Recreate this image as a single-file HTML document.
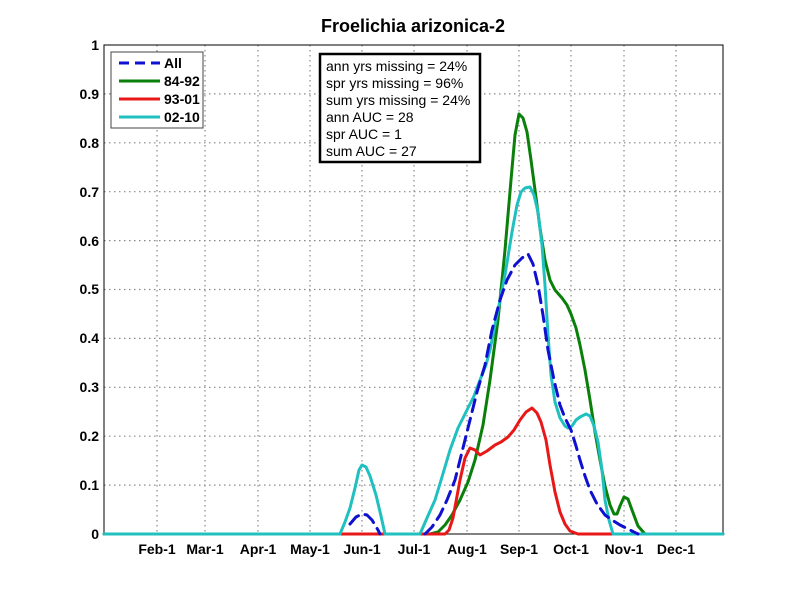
<!DOCTYPE html>
<html><head><style>body{margin:0;background:#fff}</style></head><body>
<svg width="800" height="600" xmlns="http://www.w3.org/2000/svg" font-family="Liberation Sans, Arial, sans-serif">
<rect width="800" height="600" fill="#fff"/>
<g stroke="#888" stroke-dasharray="1.5,3.5" stroke-width="1.2">
<line x1="157" y1="45" x2="157" y2="534"/><line x1="205" y1="45" x2="205" y2="534"/><line x1="258" y1="45" x2="258" y2="534"/><line x1="310" y1="45" x2="310" y2="534"/><line x1="362" y1="45" x2="362" y2="534"/><line x1="414" y1="45" x2="414" y2="534"/><line x1="467" y1="45" x2="467" y2="534"/><line x1="519" y1="45" x2="519" y2="534"/><line x1="571" y1="45" x2="571" y2="534"/><line x1="624" y1="45" x2="624" y2="534"/><line x1="676" y1="45" x2="676" y2="534"/>
<line x1="104" y1="485.1" x2="723" y2="485.1"/><line x1="104" y1="436.2" x2="723" y2="436.2"/><line x1="104" y1="387.3" x2="723" y2="387.3"/><line x1="104" y1="338.4" x2="723" y2="338.4"/><line x1="104" y1="289.5" x2="723" y2="289.5"/><line x1="104" y1="240.6" x2="723" y2="240.6"/><line x1="104" y1="191.7" x2="723" y2="191.7"/><line x1="104" y1="142.8" x2="723" y2="142.8"/><line x1="104" y1="93.9" x2="723" y2="93.9"/>
</g>
<rect x="104" y="45" width="619" height="489" fill="none" stroke="#000" stroke-width="1"/>
<g font-size="14" font-weight="bold" text-anchor="end">
<text x="99" y="539">0</text><text x="99" y="490">0.1</text><text x="99" y="441">0.2</text><text x="99" y="392">0.3</text><text x="99" y="343">0.4</text><text x="99" y="294">0.5</text><text x="99" y="246">0.6</text><text x="99" y="197">0.7</text><text x="99" y="148">0.8</text><text x="99" y="99">0.9</text><text x="99" y="50">1</text>
</g>
<g font-size="14" font-weight="bold" text-anchor="middle">
<text x="157" y="554">Feb-1</text><text x="205" y="554">Mar-1</text><text x="258" y="554">Apr-1</text><text x="310" y="554">May-1</text><text x="362" y="554">Jun-1</text><text x="414" y="554">Jul-1</text><text x="467" y="554">Aug-1</text><text x="519" y="554">Sep-1</text><text x="571" y="554">Oct-1</text><text x="624" y="554">Nov-1</text><text x="676" y="554">Dec-1</text>
</g>
<text x="413" y="32" font-size="18" font-weight="bold" text-anchor="middle">Froelichia arizonica-2</text>
<g fill="none" stroke-width="3" stroke-linejoin="round" stroke-linecap="round">
<polyline stroke="#0a800a" points="104,534 430,534 438,532 445,525 452,515 460,500 468,482 475,460 483,425 490,380 498,320 505,250 511,180 515,135 519,114 523,118 527,132 531,160 535,190 540,228 545,260 550,280 555,290 562,298 567,305 571,314 576,328 580,345 585,370 590,400 595,432 600,460 605,486 610,505 614,514 617,514 620,506 624,497 628,499 632,510 638,526 645,534 723,534"/>
<polyline stroke="#e81818" points="104,534 445,534 449,530 453,518 460,480 465,458 470,448 475,450 480,455 487,451 495,445 501,442 508,437 514,430 520,420 526,412 532,408 537,413 541,422 546,440 550,465 555,492 560,512 565,524 570,531 578,534 723,534"/>
<polyline stroke="#20c0c0" points="104,534 340,534 345,522 350,508 355,488 359,470 362,465 366,467 370,476 376,495 381,516 385,534 420,534 427,518 435,500 442,477 450,450 458,428 467,410 474,396 480,380 486,365 490,350 497,315 505,275 512,232 517,205 521,192 525,188 530,187 534,195 538,212 542,245 545,285 548,335 551,375 555,402 560,418 565,426 568,428 572,426 576,420 580,417 586,414 590,416 594,426 598,442 602,470 605,500 609,520 613,534 723,534"/>
<polyline stroke="#1010d0" stroke-dasharray="12,7" points="350,524 356,517 362,514 367,515 372,520 378,530 380,534"/>
<polyline stroke="#1010d0" stroke-dasharray="12,7" points="425,534 432,527 440,515 447,500 455,480 462,452 470,420 477,392 485,365 492,330 500,300 507,280 515,265 522,258 528,254 533,264 538,285 543,315 548,350 554,380 560,405 565,418 571,430 576,446 580,460 585,476 590,490 597,504 605,515 612,520 620,525 628,529 638,534"/>
</g>
<rect x="111" y="52" width="92" height="76" fill="#fff" stroke="#444"/>
<g stroke-width="3">
<line x1="119" y1="63" x2="160" y2="63" stroke="#1010d0" stroke-dasharray="10,6"/>
<line x1="119" y1="81" x2="160" y2="81" stroke="#0a800a"/>
<line x1="119" y1="99" x2="160" y2="99" stroke="#e81818"/>
<line x1="119" y1="117" x2="160" y2="117" stroke="#20c0c0"/>
</g>
<g font-size="14" font-weight="bold">
<text x="164" y="68">All</text><text x="164" y="86">84-92</text><text x="164" y="104">93-01</text><text x="164" y="122">02-10</text>
</g>
<rect x="320" y="54" width="160" height="108" fill="#fff" stroke="#000" stroke-width="2.5"/>
<g font-size="14">
<text x="326" y="71">ann yrs missing = 24%</text><text x="326" y="88">spr yrs missing = 96%</text><text x="326" y="105">sum yrs missing = 24%</text><text x="326" y="122">ann AUC = 28</text><text x="326" y="139">spr AUC = 1</text><text x="326" y="156">sum AUC = 27</text>
</g>
</svg>
</body></html>
